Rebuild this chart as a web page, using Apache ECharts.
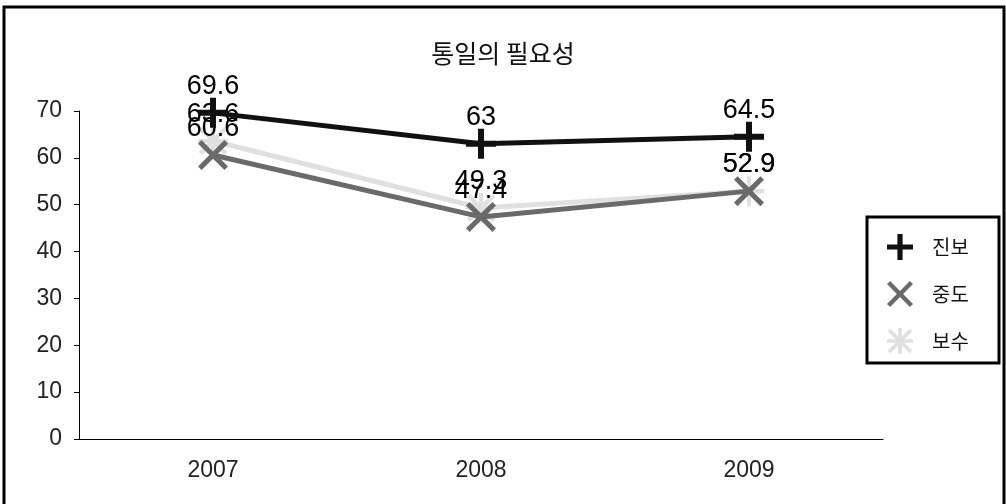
<!DOCTYPE html>
<html><head><meta charset="utf-8">
<script src="https://cdn.jsdelivr.net/npm/echarts@6/dist/echarts.min.js"></script>
<style>html,body{margin:0;padding:0;background:#fff}#c{width:1006px;height:504px}</style>
</head><body><div id="c"></div>
<script>
const categories = ['2007', '2008', '2009'];
const seriesNames = ['진보', '중도', '보수'];
const progressive = [69.6, 63, 64.5];
const moderate = [60.6, 47.4, 52.9];
const conservative = [63.6, 49.3, 52.9];
const yTicks = [0, 10, 20, 30, 40, 50, 60, 70];

const plusPath = 'path://M4,0h2v10h-2z M0,4h10v2h-10z';
const xPath = 'path://M1.2,0L5,3.8L8.8,0L10,1.2L6.2,5L10,8.8L8.8,10L5,6.2L1.2,10L0,8.8L3.8,5L0,1.2z';
const starPath = 'path://M4.3,0h1.4v10h-1.4z M0,4.3h10v1.4h-10z M1.3,0.3L5,4L8.7,0.3L9.7,1.3L6,5L9.7,8.7L8.7,9.7L5,6L1.3,9.7L0.3,8.7L4,5L0.3,1.3z';
const colors = ['#111111', '#6a6a6a', '#e0e0e0'];
const symbols = [plusPath, xPath, starPath];
const datas = [progressive, moderate, conservative];
const labelFont = 'Liberation Sans, Arial, sans-serif';
const krFont = 'Noto Sans CJK KR, sans-serif';

const chart = echarts.init(document.getElementById('c'));
chart.setOption({
  animation: false,
  title: { text: '통일의 필요성', left: 'center', top: 36,
    textStyle: { fontSize: 25, fontWeight: 'normal', color: '#111', fontFamily: krFont } },
  graphic: [
    { type: 'rect', shape: { x: 4, y: 7, width: 1000, height: 500 }, style: { fill: 'none', stroke: '#000', lineWidth: 3 } },
    { type: 'rect', shape: { x: 867, y: 217, width: 132, height: 146 }, style: { fill: '#fff', stroke: '#000', lineWidth: 3 }, z: 1 }
  ],
  legend: {
    orient: 'vertical', left: 882, top: 229, itemGap: 21, itemWidth: 30, itemHeight: 26, z: 5,
    textStyle: { fontSize: 20, color: '#111', fontFamily: krFont, padding: [0, 0, 0, 12] },
    data: seriesNames.map((n, i) => ({ name: n, icon: symbols[i] }))
  },
  grid: { left: 79, right: 123, top: 111, bottom: 65 },
  xAxis: {
    type: 'category', data: categories, boundaryGap: true,
    axisLine: { lineStyle: { color: '#000', width: 1 } },
    axisTick: { show: false },
    axisLabel: { fontSize: 23, color: '#222', margin: 20, fontFamily: labelFont }
  },
  yAxis: {
    type: 'value', min: 0, max: 70, interval: 10,
    axisLine: { show: true, lineStyle: { color: '#000', width: 1 } },
    axisTick: { show: true, length: 5, lineStyle: { color: '#000' } },
    splitLine: { show: false },
    axisLabel: { fontSize: 23, color: '#222', margin: 17, fontFamily: labelFont,
      formatter: v => yTicks.includes(v) ? String(v) : '' }
  },
  series: seriesNames.map((n, i) => ({
    name: n, type: 'line', data: datas[i], clip: false,
    symbol: symbols[i], symbolSize: 30,
    z: 3 - i,
    lineStyle: { color: colors[i], width: 5 },
    itemStyle: { color: colors[i] },
    label: { show: true, position: 'top', distance: -2, fontSize: 27, color: '#000', fontFamily: labelFont }
  }))
});
</script></body></html>
